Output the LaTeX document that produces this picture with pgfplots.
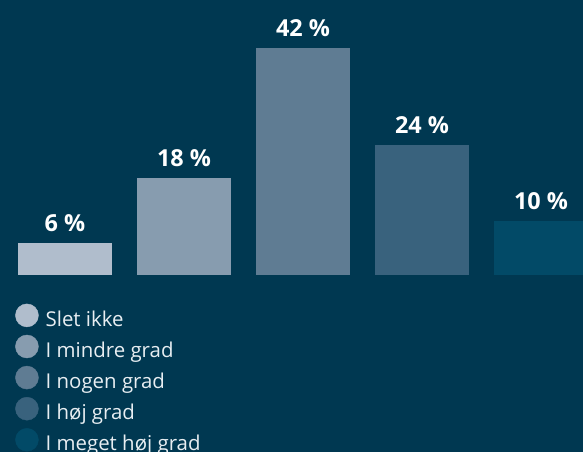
\documentclass[border=0pt]{standalone}
\usepackage{fontspec}
\setmainfont{Open Sans}
\usepackage{pgfplots}
\pgfplotsset{compat=1.18}
\definecolor{bg}{HTML}{003851}
\definecolor{c1}{HTML}{B0BDCC}
\definecolor{c2}{HTML}{879CAF}
\definecolor{c3}{HTML}{5F7C93}
\definecolor{c4}{HTML}{39627D}
\definecolor{c5}{HTML}{024A67}
\definecolor{labelc}{HTML}{E8EEF2}
\begin{document}
\begin{tikzpicture}
\fill[bg] (0,0) rectangle (583bp,452bp);
\path[use as bounding box] (0,0) rectangle (583bp,452bp);
\begin{axis}[
  at={(0,177bp)}, anchor=south west,
  scale only axis, width=583bp, height=275bp,
  xmin=-0.5462, xmax=4.3529, ymin=0, ymax=50.926,
  hide axis,
  ybar, bar width=94bp, bar shift=0pt,
  /pgf/number format/assume math mode=true,
  nodes near coords={\pgfmathprintnumber{\pgfplotspointmeta}~\%},
  every node near coord/.append style={font=\bfseries\fontsize{23.5}{23.5}\selectfont,
    text=white, inner sep=0pt, yshift=11bp},
  legend style={at={(0.0258,-0.1036)}, anchor=north west, draw=none, fill=none,
    inner sep=0pt, text=labelc, font=\fontsize{20.5}{20.5}\selectfont,
    row sep=4.6bp, column sep=7bp,
    nodes={inner sep=0pt, text height=14bp, text depth=4bp}},
  legend cell align=left,
]
\addplot[fill=c1, draw=none, forget plot] coordinates {(0,6)};
\addplot[fill=c2, draw=none, forget plot] coordinates {(1,18)};
\addplot[fill=c3, draw=none, forget plot] coordinates {(2,42)};
\addplot[fill=c4, draw=none, forget plot] coordinates {(3,24)};
\addplot[fill=c5, draw=none, forget plot] coordinates {(4,10)};

\addlegendimage{legend image code/.code={\fill[c1] (0bp,5.8bp) circle (11.5bp);}}
\addlegendentry{Slet ikke}
\addlegendimage{legend image code/.code={\fill[c2] (0bp,5.8bp) circle (11.5bp);}}
\addlegendentry{I mindre grad}
\addlegendimage{legend image code/.code={\fill[c3] (0bp,5.8bp) circle (11.5bp);}}
\addlegendentry{I nogen grad}
\addlegendimage{legend image code/.code={\fill[c4] (0bp,5.8bp) circle (11.5bp);}}
\addlegendentry{I høj grad}
\addlegendimage{legend image code/.code={\fill[c5] (0bp,5.8bp) circle (11.5bp);}}
\addlegendentry{I meget høj grad}
\end{axis}
\end{tikzpicture}
\end{document}
